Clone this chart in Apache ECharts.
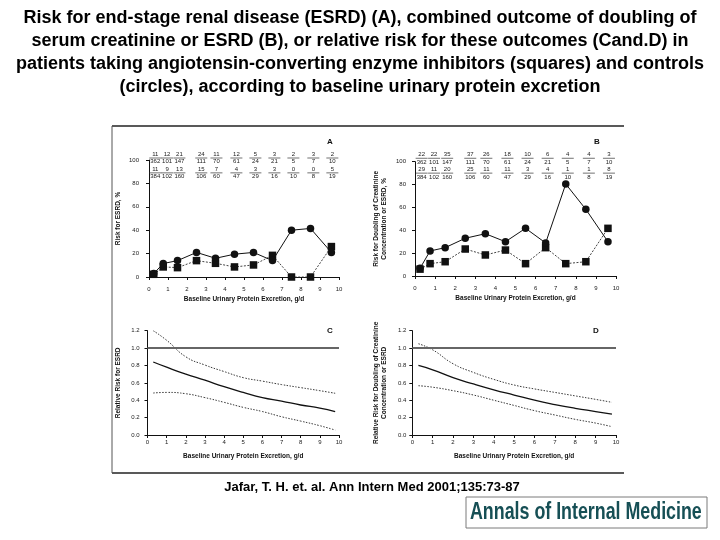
<!DOCTYPE html>
<html><head><meta charset="utf-8">
<script src="https://cdn.jsdelivr.net/npm/echarts@6/dist/echarts.min.js"></script>
<style>html,body{margin:0;padding:0;background:#fff}#c{width:720px;height:540px}</style>
</head><body><div id="c"></div>
<script>
// ---- data ----
const ptX = [0.25, 0.75, 1.5, 2.5, 3.5, 4.5, 5.5, 6.5, 7.5, 8.5, 9.6];
const fracX = [0.33, 0.95, 1.6, 2.75, 3.55, 4.6, 5.6, 6.6, 7.6, 8.65, 9.65];
// Panel A: risk for ESRD (%)
const aControl = [3, 11.5, 14, 21, 16, 19.5, 21, 14, 40, 41.5, 21];
const aACE = [2.3, 8.6, 8, 14, 11.7, 8.6, 10.3, 18.5, 0, 0, 26];
const aTopNum = ['11','12','21','24','11','12','5','3','2','3','2'];
const aTopDen = ['362','101','147','111','70','61','24','21','5','7','10'];
const aBotNum = ['11','9','13','15','7','4','3','3','0','0','5'];
const aBotDen = ['384','102','160','106','60','47','29','16','10','8','19'];
// Panel B: doubling of creatinine or ESRD (%)
const bControl = [6.7, 21.9, 24.8, 33, 37, 30, 41.7, 28.9, 80.5, 58.3, 30];
const bACE = [6, 10.8, 12.5, 23.6, 18.4, 22.7, 10.8, 24.8, 10.8, 12.5, 41.7];
const bTopNum = ['22','22','35','37','26','18','10','6','4','4','3'];
const bTopDen = ['362','101','147','111','70','61','24','21','5','7','10'];
const bBotNum = ['29','11','20','25','11','11','3','4','1','1','8'];
const bBotDen = ['384','102','160','106','60','47','29','16','10','8','19'];
// Panels C and D: relative risk curves
const curveX = [0.3, 1, 2, 3, 4, 5, 6, 7, 8, 9, 9.8];
const cMid = [0.84, 0.78, 0.70, 0.63, 0.556, 0.49, 0.43, 0.39, 0.345, 0.31, 0.27];
const cUp = [1.2, 1.09, 0.90, 0.805, 0.73, 0.66, 0.62, 0.58, 0.545, 0.51, 0.48];
const cLo = [0.483, 0.49, 0.475, 0.43, 0.376, 0.318, 0.27, 0.21, 0.16, 0.107, 0.057];
const dMid = [0.80, 0.75, 0.66, 0.587, 0.52, 0.46, 0.40, 0.35, 0.307, 0.27, 0.24];
const dUp = [1.05, 0.98, 0.82, 0.72, 0.64, 0.575, 0.53, 0.49, 0.45, 0.41, 0.376];
const dLo = [0.567, 0.55, 0.51, 0.46, 0.40, 0.34, 0.28, 0.23, 0.18, 0.137, 0.096];
const refRR = 1.0;
const titleLines = [
  'Risk for end-stage renal disease (ESRD) (A), combined outcome of doubling of',
  'serum creatinine or ESRD (B), or relative risk for these outcomes (Cand.D) in',
  'patients taking angiotensin-converting enzyme inhibitors (squares) and controls',
  '(circles), according to baseline urinary protein excretion'
];

const FONT = 'Liberation Sans, Arial, sans-serif';
const zip = (xs, ys) => xs.map((x, i) => [x, ys[i]]);

function fracSeries(idx, rowY, nums, dens) {
  return {
    type: 'custom', xAxisIndex: idx, yAxisIndex: idx, silent: true, clip: false,
    data: fracX.map((x, i) => [x, rowY, nums[i], dens[i]]),
    renderItem(params, api) {
      const i = params.dataIndex;
      const p = api.coord([api.value(0), api.value(1)]);
      return { type: 'group', children: [
        { type: 'line', shape: { x1: p[0]-6, y1: p[1], x2: p[0]+6, y2: p[1] }, style: { stroke: '#333', lineWidth: 0.7 } },
        { type: 'text', style: { text: nums[i], x: p[0], y: p[1]-0.6, align: 'center', verticalAlign: 'bottom', font: '6px ' + FONT, fill: '#222' } },
        { type: 'text', style: { text: dens[i], x: p[0], y: p[1]+0.8, align: 'center', verticalAlign: 'top', font: '6px ' + FONT, fill: '#222' } }
      ]};
    }
  };
}
function ptSeries(idx, ys, sym, dotted) {
  return {
    type: 'line', xAxisIndex: idx, yAxisIndex: idx, data: zip(ptX, ys),
    symbol: sym, symbolSize: 7.5, showSymbol: true, silent: true,
    itemStyle: { color: '#111' },
    lineStyle: dotted ? { color: '#444', width: 1, type: [2, 1.5] } : { color: '#111', width: 1 },
    z: dotted ? 3 : 4
  };
}
function curveSeries(idx, ys, dotted) {
  return {
    type: 'line', xAxisIndex: idx, yAxisIndex: idx, data: zip(curveX, ys), smooth: true,
    showSymbol: false, silent: true,
    lineStyle: dotted ? { color: '#222', width: 0.9, type: [1.5, 1.5] } : { color: '#111', width: 1.3 }
  };
}
const axLbl = { fontSize: 6, color: '#222', fontFamily: FONT };
const nameSty = { fontSize: 6.5, fontWeight: 'bold', color: '#111', fontFamily: FONT, lineHeight: 8 };
function xAx(grid, offset, margin) {
  return { type: 'value', gridIndex: grid, min: 0, max: 10, interval: 1, offset: offset,
    axisLine: { show: true, lineStyle: { color: '#111', width: 1 } },
    axisTick: { show: true, length: 3, lineStyle: { color: '#111' } },
    axisLabel: Object.assign({ margin: margin }, axLbl), splitLine: { show: false },
    name: 'Baseline Urinary Protein Excretion, g/d', nameLocation: 'middle', nameGap: offset ? 11 : 17,
    nameTextStyle: nameSty };
}
function yAx(grid, max, interval, offset, name, gap, fmt) {
  return { type: 'value', gridIndex: grid, min: 0, max: max, interval: interval, offset: offset,
    axisLine: { show: true, lineStyle: { color: '#111', width: 1 } },
    axisTick: { show: true, length: 3, lineStyle: { color: '#111' } },
    axisLabel: Object.assign({ margin: 4, formatter: fmt }, axLbl), splitLine: { show: false },
    name: name, nameLocation: 'middle', nameRotate: 90, nameGap: gap, nameTextStyle: nameSty };
}
const letterSty = (t, x, y) => ({ type: 'text', left: x, top: y, style: { text: t, font: 'bold 8px ' + FONT, fill: '#111' } });
const titleGraphics = titleLines.map((t, i) => ({
  type: 'text', x: 360, y: 18 + i * 23,
  style: { text: t, align: 'center', verticalAlign: 'middle', font: 'bold 18px ' + FONT, fill: '#000' }
}));

const chart = echarts.init(document.getElementById('c'));
chart.setOption({
  animation: false,
  backgroundColor: '#fff',
  grid: [
    { left: 149, top: 160, width: 190, height: 117 },
    { left: 415, top: 161.7, width: 201, height: 114.3 },
    { left: 147.5, top: 330.7, width: 191.5, height: 104.3 },
    { left: 412.3, top: 330.7, width: 203.7, height: 104.3 }
  ],
  xAxis: [ xAx(0, 7, 2), xAx(1, 7, 2), xAx(2, 0, 4), xAx(3, 0, 4) ],
  yAxis: [
    yAx(0, 100, 20, 6, 'Risk for ESRD, %', 21),
    yAx(1, 100, 20, 5, 'Risk for Doubling of Creatinine\nConcentration or ESRD, %', 22),
    yAx(2, 1.2, 0.2, 4, 'Relative Risk for ESRD', 21, v => v.toFixed(1)),
    yAx(3, 1.2, 0.2, 2, 'Relative Risk for Doubling of Creatinine\nConcentration or ESRD', 22, v => v.toFixed(1))
  ],
  series: [
    ptSeries(0, aACE, 'rect', true), ptSeries(0, aControl, 'circle', false),
    fracSeries(0, 101.7, aTopNum, aTopDen), fracSeries(0, 89, aBotNum, aBotDen),
    ptSeries(1, bACE, 'rect', true), ptSeries(1, bControl, 'circle', false),
    fracSeries(1, 103, bTopNum, bTopDen), fracSeries(1, 90, bBotNum, bBotDen),
    Object.assign(curveSeries(2, cMid, false), { markLine: { silent: true, symbol: 'none', label: { show: false }, lineStyle: { color: '#666', width: 2, type: 'solid' }, data: [{ yAxis: refRR }] } }),
    curveSeries(2, cUp, true), curveSeries(2, cLo, true),
    Object.assign(curveSeries(3, dMid, false), { markLine: { silent: true, symbol: 'none', label: { show: false }, lineStyle: { color: '#666', width: 2, type: 'solid' }, data: [{ yAxis: refRR }] } }),
    curveSeries(3, dUp, true), curveSeries(3, dLo, true)
  ],
  graphic: titleGraphics.concat([
    { type: 'line', shape: { x1: 112, y1: 126, x2: 624, y2: 126 }, style: { stroke: '#222', lineWidth: 1.5 } },
    { type: 'line', shape: { x1: 112, y1: 473, x2: 624, y2: 473 }, style: { stroke: '#222', lineWidth: 1.5 } },
    { type: 'line', shape: { x1: 112, y1: 126, x2: 112, y2: 473 }, style: { stroke: '#555', lineWidth: 1 } },
    letterSty('A', 327, 138), letterSty('B', 594, 138), letterSty('C', 327, 327), letterSty('D', 593, 327),
    { type: 'text', x: 372, y: 487, style: { text: 'Jafar, T. H. et. al. Ann Intern Med 2001;135:73-87', align: 'center', verticalAlign: 'middle', font: 'bold 13px ' + FONT, fill: '#000' } },
    { type: 'rect', shape: { x: 466, y: 497, width: 241, height: 31 }, style: { fill: '#fff', stroke: '#7a7a7a', lineWidth: 1 } },
    { type: 'text', x: 470, y: 501, scaleX: 0.775, style: { text: 'Annals of Internal Medicine', font: 'bold 23px ' + FONT, fill: '#164f55' } }
  ])
});
</script></body></html>
